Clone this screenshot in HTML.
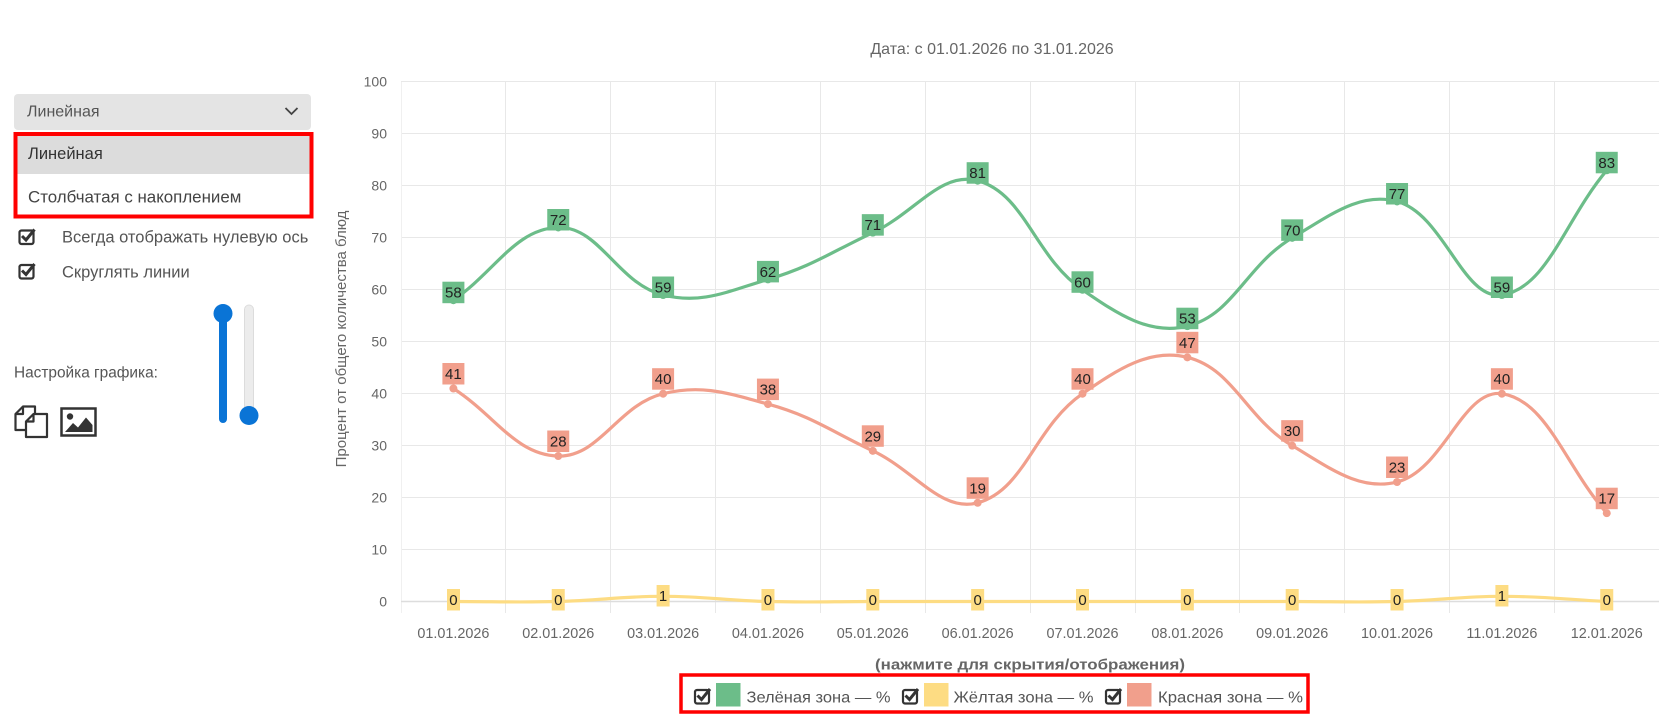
<!DOCTYPE html>
<html><head><meta charset="utf-8"><style>
html,body{margin:0;padding:0;background:#fff;}
body{width:1680px;height:720px;overflow:hidden;}
svg{display:block;font-family:"Liberation Sans","DejaVu Sans",sans-serif;}
</style></head><body>
<svg width="1680" height="720" viewBox="0 0 1680 720" xmlns="http://www.w3.org/2000/svg">
<rect width="1680" height="720" fill="#fff"/>

<!-- ===== Left panel ===== -->
<rect x="14" y="94" width="297" height="36" rx="4" fill="#e4e4e4"/>
<text x="27" y="116.5" font-size="16" fill="#555">Линейная</text>
<path d="M285.5,108 L291.5,114 L297.5,108" fill="none" stroke="#444" stroke-width="1.8"/>

<rect x="16" y="134" width="295" height="82" fill="#fff"/>
<rect x="17" y="136" width="293" height="38" fill="#dcdcdc"/>
<text x="28" y="159" font-size="16.5" fill="#333">Линейная</text>
<text x="28" y="202.5" font-size="16.9" fill="#444">Столбчатая с накоплением</text>
<rect x="15.5" y="134" width="296" height="82.5" fill="none" stroke="#ff0000" stroke-width="4"/>

<!-- checkboxes -->
<g fill="none" stroke="#333">
<rect x="19.5" y="230.5" width="14" height="13.5" rx="2" stroke-width="2.2"/>
<path d="M22,236 L26,240 L34.5,229.5" stroke-width="3"/>
<rect x="19.5" y="265" width="14" height="13.5" rx="2" stroke-width="2.2"/>
<path d="M22,270.5 L26,274.5 L34.5,264" stroke-width="3"/>
</g>
<text x="62" y="242.5" font-size="16.5" fill="#555">Всегда отображать нулевую ось</text>
<text x="62" y="277.5" font-size="16.5" fill="#555">Скруглять линии</text>

<!-- sliders -->
<rect x="244.5" y="305" width="9" height="112" rx="4.5" fill="#ececec" stroke="#dcdcdc" stroke-width="1"/>
<rect x="219" y="313" width="8" height="110" rx="4" fill="#0a74d6"/>
<circle cx="223" cy="313.5" r="9.5" fill="#0a74d6"/>
<circle cx="249" cy="415.5" r="9.5" fill="#0a74d6"/>

<text x="14" y="377.5" font-size="15.4" fill="#555">Настройка графика:</text>

<!-- copy icon -->
<g fill="#fff" stroke="#333" stroke-width="2.2" stroke-linejoin="round">
<path d="M26,430 H15.5 V414 L23,406.5 H35 V414"/>
<path d="M23,406.5 V414 H15.5" fill="none"/>
<path d="M26,421.5 L33.5,414 H47 V437 H26 Z"/>
<path d="M33.5,414 V421.5 H26" fill="none"/>
</g>
<!-- image icon -->
<rect x="61.5" y="408.5" width="34" height="27" fill="#fff" stroke="#333" stroke-width="2.5"/>
<circle cx="70" cy="416.5" r="3.2" fill="#333"/>
<path d="M65,432 L73,423 L78,427.5 L86,417.5 L92.5,425 L92.5,432 Z" fill="#333"/>

<!-- ===== Chart ===== -->
<text x="992" y="54" text-anchor="middle" font-size="16" fill="#666">Дата: с 01.01.2026 по 31.01.2026</text>

<!-- grid -->
<g stroke="#e8e8e8" stroke-width="1">
<line x1="401" y1="81.5" x2="1659" y2="81.5"/>
<line x1="401" y1="133.5" x2="1659" y2="133.5"/>
<line x1="401" y1="185.5" x2="1659" y2="185.5"/>
<line x1="401" y1="237.5" x2="1659" y2="237.5"/>
<line x1="401" y1="289.5" x2="1659" y2="289.5"/>
<line x1="401" y1="341.5" x2="1659" y2="341.5"/>
<line x1="401" y1="393.5" x2="1659" y2="393.5"/>
<line x1="401" y1="445.5" x2="1659" y2="445.5"/>
<line x1="401" y1="497.5" x2="1659" y2="497.5"/>
<line x1="401" y1="549.5" x2="1659" y2="549.5"/>
<line x1="401.5" y1="82" x2="401.5" y2="613" stroke="#f0f0f0"/>
<line x1="505.5" y1="82" x2="505.5" y2="613"/>
<line x1="610.5" y1="82" x2="610.5" y2="613"/>
<line x1="715.5" y1="82" x2="715.5" y2="613"/>
<line x1="820.5" y1="82" x2="820.5" y2="613"/>
<line x1="925.5" y1="82" x2="925.5" y2="613"/>
<line x1="1030.5" y1="82" x2="1030.5" y2="613"/>
<line x1="1135.5" y1="82" x2="1135.5" y2="613"/>
<line x1="1239.5" y1="82" x2="1239.5" y2="613"/>
<line x1="1344.5" y1="82" x2="1344.5" y2="613"/>
<line x1="1449.5" y1="82" x2="1449.5" y2="613"/>
<line x1="1554.5" y1="82" x2="1554.5" y2="613"/>
</g>
<line x1="401" y1="601.5" x2="1659" y2="601.5" stroke="#dddddd" stroke-width="1.5"/>

<!-- y tick labels -->
<g font-size="14" fill="#666" text-anchor="end">
<text x="387" y="86.5">100</text>
<text x="387" y="138.5">90</text>
<text x="387" y="190.5">80</text>
<text x="387" y="242.5">70</text>
<text x="387" y="294.5">60</text>
<text x="387" y="346.5">50</text>
<text x="387" y="398.5">40</text>
<text x="387" y="450.5">30</text>
<text x="387" y="502.5">20</text>
<text x="387" y="554.5">10</text>
<text x="387" y="606.5">0</text>
</g>

<text transform="translate(346,339) rotate(-90)" text-anchor="middle" font-size="15" fill="#666">Процент от общего количества блюд</text>

<!-- x tick labels -->
<g font-size="14.4" fill="#666" text-anchor="middle">
<text x="453.4" y="638">01.01.2026</text>
<text x="558.25" y="638">02.01.2026</text>
<text x="663.1" y="638">03.01.2026</text>
<text x="767.95" y="638">04.01.2026</text>
<text x="872.8" y="638">05.01.2026</text>
<text x="977.65" y="638">06.01.2026</text>
<text x="1082.5" y="638">07.01.2026</text>
<text x="1187.35" y="638">08.01.2026</text>
<text x="1292.2" y="638">09.01.2026</text>
<text x="1397.05" y="638">10.01.2026</text>
<text x="1501.9" y="638">11.01.2026</text>
<text x="1606.75" y="638">12.01.2026</text>
</g>

<text x="1030" y="669.5" text-anchor="middle" font-size="15" font-weight="bold" fill="#666" textLength="310" lengthAdjust="spacingAndGlyphs">(нажмите для скрытия/отображения)</text>

<!-- series lines -->
<g fill="none" stroke-width="3.2" stroke-linecap="round" stroke-linejoin="round">
<path stroke="#6cbd89" d="M453.4,300.19 C495.34,271.1 515.83,228.51 558.25,227.46 C599.71,226.43 617.76,283.77 663.1,295 C701.64,304.55 727.69,291.38 767.95,279.41 C811.57,266.44 831.26,252.2 872.8,232.65 C915.14,212.72 941.08,170.73 977.65,180.7 C1024.96,193.59 1034.1,256.23 1082.5,289.8 C1117.98,314.41 1149.81,335.46 1187.35,326.16 C1233.69,314.68 1245.86,265.4 1292.2,237.85 C1329.74,215.53 1360.04,191.39 1397.05,201.48 C1443.92,214.25 1463.06,300.77 1501.9,295 C1546.94,288.3 1564.81,220.19 1606.75,170.31"/>
<path stroke="#fddc83" d="M453.4,601.5 C495.34,601.5 516.31,602.54 558.25,601.5 C600.19,600.46 621.16,596.3 663.1,596.3 C705.04,596.3 726.01,600.46 767.95,601.5 C809.89,602.54 830.86,601.5 872.8,601.5 L1292.2,601.5 C1334.14,601.5 1355.11,602.54 1397.05,601.5 C1438.99,600.46 1459.96,596.3 1501.9,596.3 C1543.84,596.3 1564.81,599.42 1606.75,601.5"/>
<path stroke="#f19f8c" d="M453.4,388.5 C495.34,415.52 515.85,454.99 558.25,456.04 C599.73,457.07 618.1,404.85 663.1,393.7 C701.98,384.07 727.81,393.15 767.95,404.09 C811.69,416.01 831.26,431.29 872.8,450.84 C915.14,470.77 941.08,512.76 977.65,502.79 C1024.96,489.9 1034.1,427.27 1082.5,393.7 C1117.98,369.09 1149.81,348.03 1187.35,357.33 C1233.69,368.81 1245.86,418.1 1292.2,445.65 C1329.74,467.97 1359.51,491.31 1397.05,482.01 C1443.39,470.53 1463.06,387.93 1501.9,393.7 C1546.94,400.4 1564.81,465.39 1606.75,513.18"/>
</g>

<!-- dots -->
<g fill="#6cbd89">
<circle cx="453.4" cy="300.19" r="4"/><circle cx="558.25" cy="227.46" r="4"/><circle cx="663.1" cy="295" r="4"/><circle cx="767.95" cy="279.41" r="4"/><circle cx="872.8" cy="232.65" r="4"/><circle cx="977.65" cy="180.7" r="4"/><circle cx="1082.5" cy="289.8" r="4"/><circle cx="1187.35" cy="326.16" r="4"/><circle cx="1292.2" cy="237.85" r="4"/><circle cx="1397.05" cy="201.48" r="4"/><circle cx="1501.9" cy="295" r="4"/><circle cx="1606.75" cy="170.31" r="4"/>
</g>
<g fill="#f19f8c">
<circle cx="453.4" cy="388.5" r="4"/><circle cx="558.25" cy="456.04" r="4"/><circle cx="663.1" cy="393.7" r="4"/><circle cx="767.95" cy="404.09" r="4"/><circle cx="872.8" cy="450.84" r="4"/><circle cx="977.65" cy="502.79" r="4"/><circle cx="1082.5" cy="393.7" r="4"/><circle cx="1187.35" cy="357.33" r="4"/><circle cx="1292.2" cy="445.65" r="4"/><circle cx="1397.05" cy="482.01" r="4"/><circle cx="1501.9" cy="393.7" r="4"/><circle cx="1606.75" cy="513.18" r="4"/>
</g>

<!-- green labels -->
<g fill="#6cbd89">
<rect x="442.4" y="281.7" width="22" height="21.5"/>
<rect x="547.25" y="209" width="22" height="21.5"/>
<rect x="652.1" y="276.5" width="22" height="21.5"/>
<rect x="756.95" y="260.9" width="22" height="21.5"/>
<rect x="861.8" y="214.15" width="22" height="21.5"/>
<rect x="966.65" y="162.2" width="22" height="21.5"/>
<rect x="1071.5" y="271.3" width="22" height="21.5"/>
<rect x="1176.35" y="307.7" width="22" height="21.5"/>
<rect x="1281.2" y="219.35" width="22" height="21.5"/>
<rect x="1386.05" y="183" width="22" height="21.5"/>
<rect x="1490.9" y="276.5" width="22" height="21.5"/>
<rect x="1595.75" y="151.8" width="22" height="21.5"/>
</g>
<g font-size="15" fill="#222" text-anchor="middle">
<text x="453.4" y="297.7">58</text>
<text x="558.25" y="225">72</text>
<text x="663.1" y="292.5">59</text>
<text x="767.95" y="276.9">62</text>
<text x="872.8" y="230.15">71</text>
<text x="977.65" y="178.2">81</text>
<text x="1082.5" y="287.3">60</text>
<text x="1187.35" y="323.7">53</text>
<text x="1292.2" y="235.35">70</text>
<text x="1397.05" y="199">77</text>
<text x="1501.9" y="292.5">59</text>
<text x="1606.75" y="167.8">83</text>
</g>

<!-- red labels -->
<g fill="#f19f8c">
<rect x="442.4" y="363" width="22" height="21.5"/>
<rect x="547.25" y="430.5" width="22" height="21.5"/>
<rect x="652.1" y="368.2" width="22" height="21.5"/>
<rect x="756.95" y="378.6" width="22" height="21.5"/>
<rect x="861.8" y="425.3" width="22" height="21.5"/>
<rect x="966.65" y="477.3" width="22" height="21.5"/>
<rect x="1071.5" y="368.2" width="22" height="21.5"/>
<rect x="1176.35" y="331.8" width="22" height="21.5"/>
<rect x="1281.2" y="420.15" width="22" height="21.5"/>
<rect x="1386.05" y="456.5" width="22" height="21.5"/>
<rect x="1490.9" y="368.2" width="22" height="21.5"/>
<rect x="1595.75" y="487.7" width="22" height="21.5"/>
</g>
<g font-size="15" fill="#222" text-anchor="middle">
<text x="453.4" y="379">41</text>
<text x="558.25" y="446.5">28</text>
<text x="663.1" y="384.2">40</text>
<text x="767.95" y="394.6">38</text>
<text x="872.8" y="441.3">29</text>
<text x="977.65" y="493.3">19</text>
<text x="1082.5" y="384.2">40</text>
<text x="1187.35" y="347.8">47</text>
<text x="1292.2" y="436.15">30</text>
<text x="1397.05" y="472.5">23</text>
<text x="1501.9" y="384.2">40</text>
<text x="1606.75" y="503.7">17</text>
</g>

<!-- yellow labels -->
<g fill="#fddc83">
<rect x="447" y="589" width="13" height="21.5"/>
<rect x="551.75" y="589" width="13" height="21.5"/>
<rect x="656.6" y="585" width="13" height="21.5"/>
<rect x="761.45" y="589" width="13" height="21.5"/>
<rect x="866.3" y="589" width="13" height="21.5"/>
<rect x="971.15" y="589" width="13" height="21.5"/>
<rect x="1076" y="589" width="13" height="21.5"/>
<rect x="1180.85" y="589" width="13" height="21.5"/>
<rect x="1285.7" y="589" width="13" height="21.5"/>
<rect x="1390.55" y="589" width="13" height="21.5"/>
<rect x="1495.4" y="585" width="13" height="21.5"/>
<rect x="1600.25" y="589" width="13" height="21.5"/>
</g>
<g font-size="15" fill="#222" text-anchor="middle">
<text x="453.4" y="605">0</text>
<text x="558.25" y="605">0</text>
<text x="663.1" y="601">1</text>
<text x="767.95" y="605">0</text>
<text x="872.8" y="605">0</text>
<text x="977.65" y="605">0</text>
<text x="1082.5" y="605">0</text>
<text x="1187.35" y="605">0</text>
<text x="1292.2" y="605">0</text>
<text x="1397.05" y="605">0</text>
<text x="1501.9" y="601">1</text>
<text x="1606.75" y="605">0</text>
</g>

<!-- ===== Legend ===== -->
<rect x="681" y="675" width="627" height="37" fill="#fff" stroke="#ff0000" stroke-width="3.5"/>
<g fill="none" stroke="#333">
<rect x="695" y="690" width="14" height="13.5" rx="2" stroke-width="2.2"/>
<path d="M697.5,695.5 L701.5,699.5 L710,689" stroke-width="3"/>
<rect x="903" y="690" width="14" height="13.5" rx="2" stroke-width="2.2"/>
<path d="M905.5,695.5 L909.5,699.5 L918,689" stroke-width="3"/>
<rect x="1106" y="690" width="14" height="13.5" rx="2" stroke-width="2.2"/>
<path d="M1108.5,695.5 L1112.5,699.5 L1121,689" stroke-width="3"/>
</g>
<rect x="716" y="683" width="24.5" height="23.5" fill="#6cbd89"/>
<rect x="924" y="683" width="24.5" height="23.5" fill="#fddc83"/>
<rect x="1127" y="683" width="24.5" height="23.5" fill="#f19f8c"/>
<g font-size="16" fill="#555">
<text x="746.5" y="702.5" textLength="144" lengthAdjust="spacingAndGlyphs">Зелёная зона — %</text>
<text x="953.5" y="702.5" textLength="140" lengthAdjust="spacingAndGlyphs">Жёлтая зона — %</text>
<text x="1158" y="702.5" textLength="145" lengthAdjust="spacingAndGlyphs">Красная зона — %</text>
</g>
</svg>
</body></html>
